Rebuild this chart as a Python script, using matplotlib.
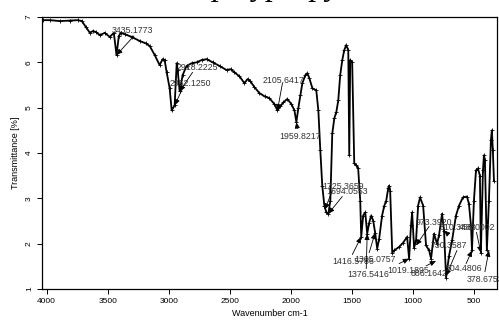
import matplotlib
matplotlib.use('Agg')
import matplotlib.pyplot as plt

plt.rcParams['font.family'] = ['Liberation Sans', 'DejaVu Sans']

# spectrum (wavenumber cm-1, transmittance %)
wavenumber = [4033, 3973, 3891, 3810, 3744, 3712, 3679, 3646, 3622, 3597,
              3565, 3524, 3483, 3450, 3428, 3409, 3393, 3360, 3303, 3238,
              3189, 3156, 3115, 3075, 3050, 3034, 3017, 2993, 2976, 2952,
              2935, 2927, 2911, 2886, 2854, 2813, 2772, 2731, 2690, 2641,
              2584, 2527, 2494, 2462, 2421, 2380, 2355, 2331, 2298, 2257,
              2216, 2176, 2135, 2110, 2086, 2061, 2029, 1996, 1971, 1955,
              1939, 1922, 1906, 1881, 1865, 1849, 1824, 1792, 1775, 1759,
              1743, 1726, 1710, 1693, 1677, 1661, 1644, 1628, 1612, 1596,
              1579, 1563, 1547, 1530, 1522, 1514, 1498, 1481, 1465, 1449,
              1432, 1424, 1408, 1391, 1375, 1359, 1342, 1326, 1310, 1293,
              1277, 1253, 1235, 1219, 1203, 1195, 1187, 1170, 1154, 1113,
              1081, 1048, 1032, 1016, 1007, 991, 975, 958, 942, 917,
              893, 868, 852, 828, 803, 787, 762, 746, 729, 705,
              680, 648, 623, 591, 558, 542, 525, 517, 501, 484,
              468, 452, 444, 427, 419, 411, 395, 378, 362, 354,
              346, 337]
transmittance = [6.93, 6.93, 6.91, 6.92, 6.93, 6.91, 6.78, 6.65, 6.69, 6.67,
                 6.60, 6.65, 6.56, 6.65, 6.16, 6.58, 6.65, 6.62, 6.56, 6.47,
                 6.42, 6.36, 6.16, 5.94, 6.07, 6.05, 5.78, 5.43, 4.94, 5.05,
                 5.98, 5.83, 5.36, 5.72, 5.92, 5.98, 6.00, 6.05, 6.07, 6.00,
                 5.92, 5.83, 5.85, 5.78, 5.69, 5.54, 5.63, 5.58, 5.45, 5.32,
                 5.25, 5.21, 5.08, 4.94, 5.03, 5.12, 5.19, 5.08, 4.94, 4.68,
                 4.99, 5.27, 5.54, 5.72, 5.76, 5.65, 5.43, 5.38, 4.94, 4.06,
                 3.28, 2.84, 2.69, 2.66, 2.95, 4.43, 4.77, 4.90, 5.16, 5.72,
                 6.05, 6.27, 6.38, 6.27, 3.95, 6.05, 6.00, 3.77, 3.73, 3.66,
                 2.95, 2.15, 2.62, 2.69, 2.22, 2.46, 2.62, 2.51, 2.24, 1.89,
                 2.11, 2.62, 2.84, 2.95, 3.22, 3.28, 3.17, 1.80, 1.85, 1.93,
                 2.02, 2.15, 1.67, 2.42, 2.69, 1.91, 2.07, 2.84, 3.02, 2.84,
                 1.96, 1.85, 1.67, 2.22, 2.00, 2.18, 2.66, 2.29, 1.25, 1.73,
                 2.07, 2.62, 2.84, 3.02, 3.04, 2.88, 2.40, 1.85, 2.95, 3.62,
                 3.66, 3.50, 1.80, 3.62, 3.95, 3.84, 1.85, 2.95, 4.28, 4.50,
                 4.06, 3.39]

# peak labels: text, peak (wn, T), text anchor (wn, T), arrow tail (wn, T)
peak_labels = ['3435.1773', '2918.2225', '2952.1250', '2105.6417', '1959.8217',
               '1725.3659', '1694.0553', '1416.5786', '1305.0757', '1376.5416',
               '1019.1895', '886.1642', '973.3920', '810.3488', '730.3587',
               '504.4806', '458.0002', '378.6753']
peak_wn = [3428, 2911, 2952, 2110, 1955, 1722, 1693, 1424, 1310, 1375,
           1032, 811, 975, 746, 729, 517, 444, 378]
peak_t = [6.16, 5.36, 5.05, 4.94, 4.68, 2.75, 2.66, 2.15, 2.24, 2.22,
          1.67, 1.62, 1.96, 2.29, 1.29, 1.85, 1.80, 1.85]
text_wn = [3466, 2935, 2993, 2232, 2093, 1741, 1709, 1660, 1480, 1538,
           1212, 1016, 975, 778, 852, 729, 623, 558]
text_t = [6.71, 5.89, 5.54, 5.61, 4.37, 3.26, 3.15, 1.60, 1.65, 1.31,
          1.40, 1.34, 2.46, 2.35, 1.96, 1.45, 2.35, 1.20]
tail_wn = [3286, 2805, 2886, 2069, 1947, 1661, 1579, 1497, 1359, 1383,
           1114, 893, 868, 730, 640, 565, 480, 411]
tail_t = [6.58, 5.78, 5.43, 5.54, 4.54, 3.17, 3.04, 1.76, 1.80, 1.45,
          1.56, 1.51, 2.38, 2.25, 1.85, 1.56, 2.25, 1.38]

fig = plt.figure(figsize=(4.99, 3.20), dpi=100)
ax = fig.add_axes([0.0842, 0.0969, 0.9118, 0.85])

ax.plot(wavenumber, transmittance, color='black', lw=1.3,
        marker='+', ms=3, mew=0.6)

for i, lab in enumerate(peak_labels):
    ax.annotate('', xy=(peak_wn[i], peak_t[i]), xytext=(tail_wn[i], tail_t[i]),
                arrowprops=dict(arrowstyle='-|>,head_length=0.35,head_width=0.15',
                                color='black', lw=0.6, shrinkA=0, shrinkB=0))
    ax.text(text_wn[i], text_t[i], lab, fontsize=6.3, color='#333333',
            ha='left', va='center')

ax.set_xlim(4038, 312)
ax.set_ylim(1, 7)
ax.set_xticks([4000, 3500, 3000, 2500, 2000, 1500, 1000, 500])
ax.set_yticks([1, 2, 3, 4, 5, 6, 7])
ax.tick_params(axis='both', labelsize=6, length=3.5, width=0.7, pad=3)
for lab in ax.get_yticklabels():
    lab.set_rotation(90)
    lab.set_va('center')
for sp in ax.spines.values():
    sp.set_linewidth(0.9)
ax.set_xlabel('Wavenumber cm-1', fontsize=6.5, labelpad=3)
ax.set_ylabel('Transmittance [%]', fontsize=6.5, labelpad=4)

# title mostly cut off by the top of the figure, only descenders show
fig.text(213 / 499, 1 + 5 / 320, 'polypropylene', family='Liberation Serif',
         style='italic', fontsize=23, va='baseline', ha='left')

fig.savefig('out.png', dpi=100)
